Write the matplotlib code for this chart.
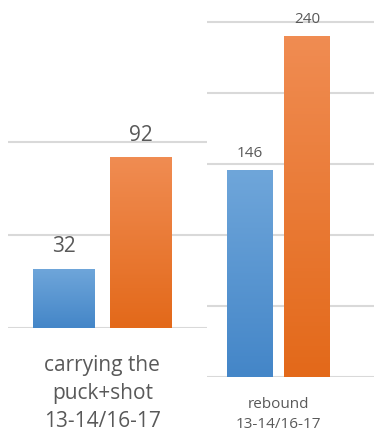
import numpy as np
import matplotlib.pyplot as plt
from matplotlib.colors import LinearSegmentedColormap

# data
seasons = ['13-14', '16-17']
carry_vals = [32, 92]
rebound_vals = [146, 240]
carry_label = 'carrying the\npuck+shot\n13-14/16-17'
rebound_label = 'rebound\n13-14/16-17'

blue_top, blue_bot = '#6fa6da', '#4486c8'
orange_top, orange_bot = '#f08c52', '#e3691a'
grid_col = '#d9d9d9'
text_col = '#595959'

plt.rcParams['font.family'] = ['Open Sans', 'DejaVu Sans']


def gradient_bars(ax, xs, vals, width, cols):
    bars = ax.bar(xs, vals, width, color='none', zorder=3)
    grad = np.linspace(0, 1, 100).reshape(-1, 1)
    for b, (top, bot) in zip(bars, cols):
        cmap = LinearSegmentedColormap.from_list('g', [bot, top])
        x0, y0 = b.get_x(), b.get_y()
        im = ax.imshow(grad, cmap=cmap, aspect='auto', origin='lower',
                       extent=[x0, x0 + b.get_width(), y0, y0 + b.get_height()],
                       zorder=3)
        im.set_clip_path(b)
    return bars


def style(ax, ticks):
    for s in ax.spines.values():
        s.set_visible(False)
    ax.set_yticks(ticks)
    ax.set_xticks([])
    ax.tick_params(left=False, labelleft=False)
    ax.yaxis.grid(True, color=grid_col, linewidth=1.5, zorder=0)
    ax.set_axisbelow(True)


fig = plt.figure(figsize=(3.74, 4.34), dpi=100)

# left panel
ax1 = fig.add_axes([8 / 374, 106 / 434, 199 / 374, 223 / 434])
xs = np.array([-0.5, 0.5])
gradient_bars(ax1, xs, carry_vals, 0.81,
              [(blue_top, blue_bot), (orange_top, orange_bot)])
ax1.set_xlim(-1.232, 1.369)
ax1.set_ylim(0, 120)
style(ax1, [0, 50, 100])
for x, v in zip(xs, carry_vals):
    ax1.annotate(str(v), (x, v), xytext=(0, 8), textcoords='offset points',
                 ha='center', va='bottom', fontsize=15, color=text_col)
ax1.text(0, -0.12, carry_label, transform=ax1.get_xaxis_transform(),
         ha='center', va='top', fontsize=15, color=text_col, linespacing=1.45)

# right panel
ax2 = fig.add_axes([207 / 374, 57 / 434, 167 / 374, 377 / 434])
gradient_bars(ax2, xs, rebound_vals, 0.8,
              [(blue_top, blue_bot), (orange_top, orange_bot)])
ax2.set_xlim(-1.248, 1.657)
ax2.set_ylim(0, 265.5)
style(ax2, [0, 50, 100, 150, 200, 250])
for x, v in zip(xs, rebound_vals):
    ax2.annotate(str(v), (x, v), xytext=(0, 6.5), textcoords='offset points',
                 ha='center', va='bottom', fontsize=11, color=text_col)
ax2.text(0, -0.053, rebound_label, transform=ax2.get_xaxis_transform(),
         ha='center', va='top', fontsize=11, color=text_col, linespacing=1.45)

fig.savefig('out.png', dpi=100)
